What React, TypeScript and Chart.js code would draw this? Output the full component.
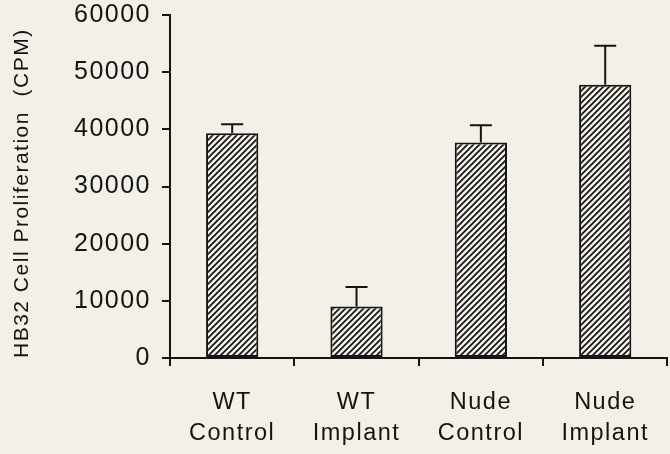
import { useEffect, useRef } from 'react';
import { Chart, registerables } from 'chart.js';

Chart.register(...registerables);

// Groups shown on the x axis (two-line labels)
const groups: string[][] = [
  ['WT', 'Control'],
  ['WT', 'Implant'],
  ['Nude', 'Control'],
  ['Nude', 'Implant'],
];
// Mean proliferation (CPM) and upper error (SEM) for each group
const proliferation = [39300, 9000, 37700, 47800];
const sem = [1600, 3400, 3000, 6800];
// Y axis tick values
const yTicks = [0, 10000, 20000, 30000, 40000, 50000, 60000];

const INK = '#141414';
const PAPER = '#f2f0e7';
const FONT = "'Liberation Sans', Arial, Helvetica, sans-serif";
const TRACKING = '1.5px';

// Diagonal "////" hatch fill used for the bars
function makeHatch(ctx: CanvasRenderingContext2D): CanvasPattern | string {
  const s = 6;
  const c = document.createElement('canvas');
  c.width = s;
  c.height = s;
  const g = c.getContext('2d');
  if (!g) return INK;
  g.fillStyle = PAPER;
  g.fillRect(0, 0, s, s);
  g.strokeStyle = INK;
  g.lineWidth = 1.7;
  g.beginPath();
  g.moveTo(-1, s + 1);
  g.lineTo(s + 1, -1);
  g.moveTo(-2, 2);
  g.lineTo(2, -2);
  g.moveTo(s - 2, s + 2);
  g.lineTo(s + 2, s - 2);
  g.stroke();
  return ctx.createPattern(c, 'repeat') || INK;
}

// Wide tracking of the typeset labels
const letterSpacing = {
  id: 'letterSpacing',
  beforeUpdate(chart: any) {
    chart.ctx.letterSpacing = TRACKING;
  },
  beforeLayout(chart: any) {
    chart.ctx.letterSpacing = TRACKING;
  },
  beforeDraw(chart: any) {
    chart.ctx.letterSpacing = TRACKING;
  },
};

// Upper error bars with caps
const errorBars = {
  id: 'errorBars',
  afterDatasetsDraw(chart: any) {
    const { ctx } = chart;
    const y = chart.scales.y;
    const meta = chart.getDatasetMeta(0);
    ctx.save();
    ctx.strokeStyle = INK;
    ctx.lineWidth = 2;
    meta.data.forEach((bar: any, i: number) => {
      const x = bar.x;
      const base = y.getPixelForValue(proliferation[i]);
      const top = y.getPixelForValue(proliferation[i] + sem[i]);
      ctx.beginPath();
      ctx.moveTo(x, base);
      ctx.lineTo(x, top);
      ctx.moveTo(x - 11, top);
      ctx.lineTo(x + 11, top);
      ctx.stroke();
    });
    ctx.restore();
  },
};

export default function App() {
  const canvasRef = useRef<HTMLCanvasElement | null>(null);

  useEffect(() => {
    const canvas = canvasRef.current;
    if (!canvas) return;
    const ctx = canvas.getContext('2d');
    if (!ctx) return;
    const hatch = makeHatch(ctx);

    const chart = new Chart(ctx, {
      type: 'bar',
      data: {
        labels: groups,
        datasets: [
          {
            data: proliferation,
            backgroundColor: hatch as any,
            borderColor: INK,
            borderWidth: 2,
            borderSkipped: false,
            barPercentage: 0.42,
            categoryPercentage: 1,
          },
        ],
      },
      options: {
        animation: false,
        responsive: true,
        maintainAspectRatio: false,
        layout: { padding: { top: 15, right: -2, left: 0, bottom: 0 } },
        plugins: {
          legend: { display: false },
          tooltip: { enabled: false },
        },
        scales: {
          x: {
            z: 1,
            grid: {
              drawOnChartArea: false,
              drawTicks: true,
              tickLength: 8,
              color: INK,
              lineWidth: 2,
              offset: true,
            },
            border: { display: true, color: INK, width: 2 },
            ticks: {
              color: INK,
              font: { family: FONT, size: 23.5, lineHeight: 1.32 },
              padding: 21,
              maxRotation: 0,
              autoSkip: false,
            },
            afterFit: (s: any) => {
              s.height = 96;
            },
          },
          y: {
            min: 0,
            max: 60000,
            afterBuildTicks: (s: any) => {
              s.ticks = yTicks.map((v) => ({ value: v }));
            },
            grid: {
              drawOnChartArea: false,
              drawTicks: true,
              tickLength: 8,
              color: INK,
              lineWidth: 2,
            },
            border: { display: true, color: INK, width: 2 },
            ticks: {
              color: INK,
              font: { family: FONT, size: 25 },
              padding: 11,
              callback: (v: any) => String(v),
            },
            title: {
              display: true,
              text: 'HB32 Cell Proliferation  (CPM)',
              color: INK,
              font: { family: FONT, size: 21 },
              align: 'start',
              padding: { top: 10, bottom: 0 },
            },
            afterFit: (s: any) => {
              s.width = 170;
              s.paddingTop = 0;
              s.paddingBottom = 0;
            },
          },
        },
      } as any,
      plugins: [letterSpacing, errorBars],
    });

    return () => chart.destroy();
  }, []);

  return (
    <div
      style={{
        position: 'fixed',
        left: 0,
        top: 0,
        width: 670,
        height: 454,
        background: PAPER,
      }}
    >
      <canvas ref={canvasRef} />
    </div>
  );
}
